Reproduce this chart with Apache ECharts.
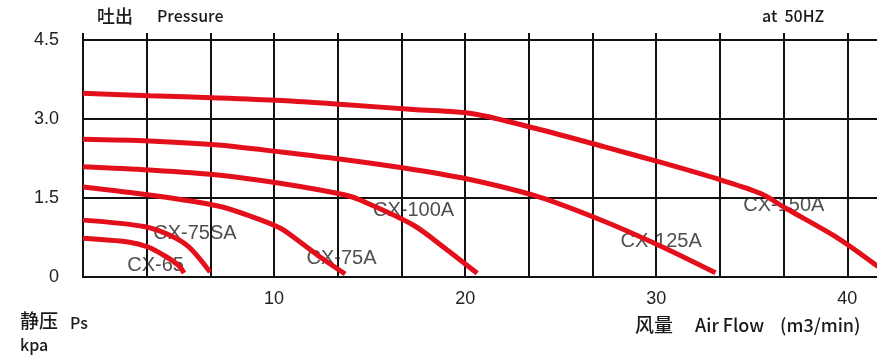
<!DOCTYPE html>
<html>
<head>
<meta charset="utf-8">
<script src="https://cdn.jsdelivr.net/npm/echarts@6/dist/echarts.min.js"></script>
<style>
  html, body { margin: 0; padding: 0; background: #fff; }
  #chart { width: 877px; height: 362px; }
</style>
</head>
<body>
<div id="chart"></div>
<script>
// x axis: air flow (m3/min), y axis: static pressure (kpa)
const xTickStep = 10 / 3
const xMax = 130 / 3
const yTicks = [0, 1.5, 3.0, 4.5]

// curves
const cx65X = [0, 2.36, 3.40, 4.29, 4.97, 5.29]
const cx65Y = [0.735, 0.664, 0.570, 0.399, 0.228, 0.076]

const cx75saX = [0, 3.25, 4.71, 5.60, 6.65]
const cx75saY = [1.08, 0.955, 0.765, 0.551, 0.095]

const cx75aX = [0, 3.46, 7.07, 8.74, 10.31, 11.36, 12.41, 13.72]
const cx75aY = [1.71, 1.557, 1.348, 1.158, 0.930, 0.665, 0.380, 0.057]

const cx100aX = [0, 3.46, 7.07, 10.31, 13.72, 14.50, 17.28, 19.06, 20.63]
const cx100aY = [2.094, 2.032, 1.937, 1.779, 1.557, 1.462, 0.987, 0.513, 0.07]

const cx125aX = [0, 3.46, 7.07, 10.37, 13.82, 17.28, 20.37, 23.93, 27.33, 30.30, 33.1]
const cx125aY = [2.614, 2.582, 2.506, 2.373, 2.221, 2.041, 1.842, 1.513, 1.050, 0.575, 0.08]

const cx150aX = [0, 3.5, 7.1, 10.4, 13.8, 17.3, 20.4, 23.9, 27.3, 30.3, 33.4, 35.5, 36.8, 39.5, 41.6]
const cx150aY = [3.49, 3.44, 3.40, 3.35, 3.27, 3.18, 3.10, 2.80, 2.47, 2.17, 1.84, 1.58, 1.30, 0.74, 0.20]

// curve names and where they are written
const labelNames = ['CX-65', 'CX-75SA', 'CX-75A', 'CX-100A', 'CX-125A', 'CX-150A']
const labelX = [3.80, 5.86, 13.53, 17.30, 30.26, 36.68]
const labelY = [0.228, 0.826, 0.361, 1.263, 0.683, 1.367]

const zip = (xs, ys) => xs.map((x, i) => [x, ys[i]])

const curves = [
    zip(cx65X, cx65Y),
    zip(cx75saX, cx75saY),
    zip(cx75aX, cx75aY),
    zip(cx100aX, cx100aY),
    zip(cx125aX, cx125aY),
    zip(cx150aX, cx150aY)
]

const chart = echarts.init(document.getElementById('chart'))

const gridColor = '#111'
const latin = '"Liberation Sans", Arial, sans-serif'
const cjk = '"Noto Sans CJK SC", sans-serif'

// plain captions round the plot
const caption = (text, left, top, size) => ({
    type: 'text',
    left: left,
    top: top,
    style: { text: text, fontSize: size, fontFamily: cjk, fontWeight: 500, fill: '#1a1a1a' }
})

const option = {
    animation: false,
    backgroundColor: '#fff',
    grid: {
        left: 83,
        top: 40,
        right: -34,
        bottom: 85,
        containLabel: false,
        outerBoundsMode: 'none'
    },
    xAxis: [
        {
            type: 'value',
            position: 'bottom',
            min: 0,
            max: xMax,
            interval: xTickStep,
            axisLine: { show: true, lineStyle: { color: gridColor, width: 2 } },
            axisTick: { show: false },
            splitLine: { show: true, lineStyle: { color: gridColor, width: 2 } },
            axisLabel: {
                margin: 13,
                fontSize: 18,
                fontFamily: latin,
                color: '#222',
                formatter: (v) => {
                    const k = v / 10
                    return v > 0 && Math.abs(k - Math.round(k)) < 1e-6 ? String(Math.round(v)) : ''
                }
            }
        },
        {
            // only the short tick marks above the top line
            type: 'value',
            position: 'top',
            min: 0,
            max: xMax,
            interval: xTickStep,
            axisLine: { show: true, lineStyle: { color: gridColor, width: 2 } },
            axisTick: { show: true, length: 7, lineStyle: { color: gridColor, width: 2 } },
            splitLine: { show: false },
            axisLabel: { show: false }
        }
    ],
    yAxis: {
        type: 'value',
        min: yTicks[0],
        max: yTicks[yTicks.length - 1],
        interval: 1.5,
        axisLine: { show: true, lineStyle: { color: gridColor, width: 2 } },
        axisTick: { show: false },
        splitLine: { show: true, lineStyle: { color: gridColor, width: 2 } },
        axisLabel: {
            margin: 24,
            fontSize: 18,
            fontFamily: latin,
            color: '#222',
            formatter: (v) => (v === 0 ? '0' : v.toFixed(1))
        }
    },
    series: [
        ...curves.map((data, i) => ({
            name: labelNames[i],
            type: 'line',
            data: data,
            smooth: 0.3,
            showSymbol: false,
            symbol: 'none',
            z: 3,
            lineStyle: { color: '#e3101c', width: 5 }
        })),
        {
            type: 'scatter',
            symbolSize: 0,
            z: 1,
            data: labelNames.map((n, i) => ({ name: n, value: [labelX[i], labelY[i]] })),
            label: {
                show: true,
                position: 'inside',
                formatter: '{b}',
                fontSize: 20,
                fontFamily: latin,
                color: '#222'
            }
        }
    ],
    graphic: [
        caption('吐出', 97, 7, 18),
        caption('Pressure', 157, 8, 16),
        caption('at  50HZ', 762, 8, 16),
        caption('静压', 20, 311, 19),
        caption('Ps', 70, 315, 16),
        caption('kpa', 20, 337, 16),
        caption('风量', 635, 315, 19),
        caption('Air Flow', 695, 316, 18),
        caption('(m3/min)', 780, 316, 18)
    ]
}

chart.setOption(option)

window.addEventListener('resize', () => {
    chart.resize()
})
</script>
</body>
</html>
